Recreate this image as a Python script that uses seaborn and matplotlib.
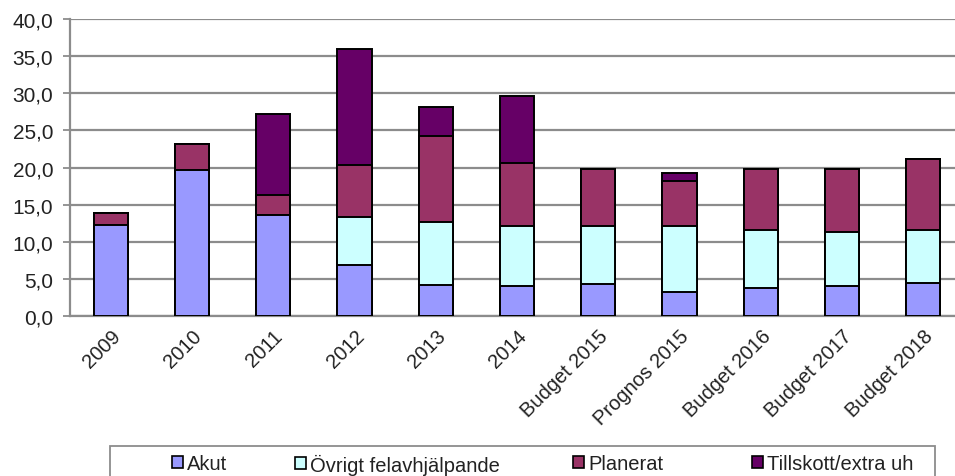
import numpy as np
import pandas as pd
import matplotlib
matplotlib.use("Agg")
import matplotlib.pyplot as plt
import seaborn as sns
from matplotlib.patches import Patch, Rectangle
from matplotlib.ticker import FuncFormatter

# data
categories = ["2009", "2010", "2011", "2012", "2013", "2014",
              "Budget 2015", "Prognos 2015", "Budget 2016", "Budget 2017", "Budget 2018"]
akut = [12.3, 19.7, 13.6, 6.9, 4.2, 4.1, 4.3, 3.2, 3.8, 4.0, 4.4]
ovrigt = [0, 0, 0, 6.4, 8.5, 8.0, 7.8, 8.9, 7.8, 7.3, 7.2]
planerat = [1.6, 3.4, 2.7, 7.0, 11.6, 8.5, 7.7, 6.1, 8.2, 8.5, 9.6]
tillskott = [0, 0, 10.9, 15.6, 3.8, 9.0, 0, 1.1, 0, 0, 0]

series_names = ["Akut", "Övrigt felavhjälpande", "Planerat", "Tillskott/extra uh"]
colors = ["#9999ff", "#ccffff", "#993366", "#660066"]

df = pd.DataFrame({"kategori": categories, "Akut": akut,
                   "Övrigt felavhjälpande": ovrigt, "Planerat": planerat,
                   "Tillskott/extra uh": tillskott})
cum = df[series_names].cumsum(axis=1)

sns.set_style("white")
plt.rcParams["font.family"] = ["Liberation Sans", "DejaVu Sans"]

fig = plt.figure(figsize=(9.55, 4.77), dpi=100)
ax = fig.add_axes([70 / 955, 1 - 317 / 477, 894 / 955, 297 / 477])

# stacked bars: draw cumulative totals from the top series down
for name, col in reversed(list(zip(series_names, colors))):
    sns.barplot(x=df["kategori"], y=cum[name], color=col, width=0.42,
                edgecolor="black", linewidth=1.4, saturation=1, ax=ax, zorder=3)

ax.set_ylim(0, 40)
ax.set_xlim(-0.5, len(categories) - 0.5)
ax.set_yticks(np.arange(0, 41, 5))
ax.yaxis.set_major_formatter(FuncFormatter(lambda v, p: f"{v:.1f}".replace(".", ",")))
ax.grid(axis="y", color="#8c8c8c", linewidth=1.6, zorder=0)
ax.set_axisbelow(True)
ax.set_xlabel("")
ax.set_ylabel("")

for s in ["top", "right"]:
    ax.spines[s].set_visible(False)
for s in ["left", "bottom"]:
    ax.spines[s].set_color("#8c8c8c")
    ax.spines[s].set_linewidth(1.6)

ax.set_xticks(range(len(categories)))
ax.set_xticklabels(categories, rotation=45, ha="right", rotation_mode="anchor",
                   fontsize=14.5, color="#222222")
ax.set_xticks(np.arange(-0.5, len(categories), 1), minor=True)
ax.tick_params(axis="x", which="major", length=0, pad=7)
ax.tick_params(axis="x", which="minor", length=5, color="#8c8c8c", width=1.3, direction="out")
ax.tick_params(axis="y", length=5, color="#8c8c8c", width=1.3, labelsize=15,
               labelcolor="#222222", left=True, pad=7)

# legend box at the bottom
fig.patches.append(Rectangle((110 / 955, 1 - 482 / 477), 825 / 955, 35 / 477,
                             transform=fig.transFigure, facecolor="white",
                             edgecolor="#8c8c8c", linewidth=1.3))
entry_x = [172, 295, 573, 752]
for name, col, xpos in zip(series_names, colors, entry_x):
    h = Patch(facecolor=col, edgecolor="black", linewidth=1.2)
    fig.legend([h], [name], loc="center left", bbox_to_anchor=(xpos / 955, 1 - 465 / 477),
               frameon=False, fontsize=14.5, handlelength=0.55, handleheight=0.55,
               handletextpad=0.2, borderpad=0, borderaxespad=0,
               labelcolor="#222222")

fig.savefig("out.png", dpi=100)
